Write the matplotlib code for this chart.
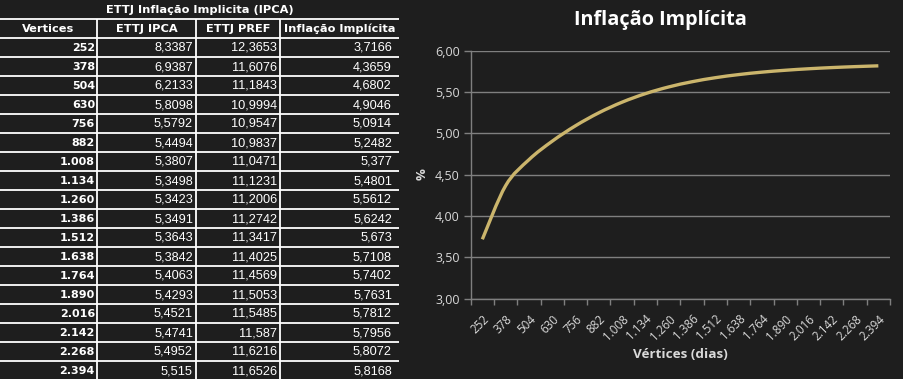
import matplotlib
matplotlib.use("Agg")
import matplotlib.pyplot as plt
from matplotlib.path import Path
from matplotlib.patches import PathPatch
import numpy as np

# ---------------- data ----------------
vertices = [252, 378, 504, 630, 756, 882, 1008, 1134, 1260, 1386, 1512, 1638,
            1764, 1890, 2016, 2142, 2268, 2394]
ettj_ipca = [8.3387, 6.9387, 6.2133, 5.8098, 5.5792, 5.4494, 5.3807, 5.3498,
             5.3423, 5.3491, 5.3643, 5.3842, 5.4063, 5.4293, 5.4521, 5.4741,
             5.4952, 5.515]
ettj_pref = [12.3653, 11.6076, 11.1843, 10.9994, 10.9547, 10.9837, 11.0471,
             11.1231, 11.2006, 11.2742, 11.3417, 11.4025, 11.4569, 11.5053,
             11.5485, 11.587, 11.6216, 11.6526]
inflacao = [3.7166, 4.3659, 4.6802, 4.9046, 5.0914, 5.2482, 5.377, 5.4801,
            5.5612, 5.6242, 5.673, 5.7108, 5.7402, 5.7631, 5.7812, 5.7956,
            5.8072, 5.8168]
table_title = "ETTJ Inflação Implicita (IPCA)"
table_headers = ["Vertices", "ETTJ IPCA", "ETTJ PREF", "Inflação Implícita"]
chart_title = "Inflação Implícita"
x_label = "Vértices (dias)"
y_label = "%"
y_ticks = [3.0, 3.5, 4.0, 4.5, 5.0, 5.5, 6.0]

BG = "#1e1e1e"
TXT = "#d9d9d9"
GRID = "#7f7f7f"
LINE = "#cbb56c"

W, H = 904, 379
fig = plt.figure(figsize=(W / 100, H / 100), dpi=100, facecolor=BG)

def fmt_vert(v):
    return f"{v:,}".replace(",", ".")

def fmt_num(v):
    return repr(float(v)).replace(".", ",")

# ---------------- table ----------------
tab = fig.add_axes([0, 0, 1, 1])
tab.set_xlim(0, W)
tab.set_ylim(H, 0)
tab.axis("off")
tab.patch.set_alpha(0)

row_h = 19
table_right = 399
col_edges = [0, 97, 196, 280, table_right]
hdr_font = dict(family="DejaVu Sans", weight="bold", size=8.2, color="white")
col1_font = dict(family="DejaVu Sans", weight="bold", size=8.0, color="white")
val_font = dict(family="Liberation Sans", size=9.2, color="white")

tab.text(200, row_h / 2 + 0.5, table_title, ha="center", va="center", **hdr_font)
for i, h in enumerate(table_headers):
    cx = (col_edges[i] + col_edges[i + 1]) / 2
    tab.text(cx, row_h * 1.5 + 0.5, h, ha="center", va="center", **hdr_font)

n = len(vertices)
for r in range(n + 1):
    y = row_h * (r + 1)
    tab.plot([0, table_right], [y, y], color="white", lw=1.3, solid_capstyle="butt")
for xe in col_edges[1:-1]:
    tab.plot([xe, xe], [row_h, H], color="white", lw=1.3, solid_capstyle="butt")

right_pos = [95, 193, 277, 392]
for r in range(n):
    yc = row_h * (r + 2) + row_h / 2 + 0.5
    tab.text(right_pos[0], yc, fmt_vert(vertices[r]), ha="right", va="center", **col1_font)
    tab.text(right_pos[1], yc, fmt_num(ettj_ipca[r]), ha="right", va="center", **val_font)
    tab.text(right_pos[2], yc, fmt_num(ettj_pref[r]), ha="right", va="center", **val_font)
    tab.text(right_pos[3], yc, fmt_num(inflacao[r]), ha="right", va="center", **val_font)

# ---------------- chart ----------------
x0, x1 = 470.7, 890
y_top, y_bot = 50.7, 298.5
ax = fig.add_axes([x0 / W, (H - y_bot) / H, (x1 - x0) / W, (y_bot - y_top) / H])
ax.set_facecolor(BG)

xs = np.arange(n, dtype=float)
ys = np.array(inflacao, dtype=float)

# smoothed line (Bezier through the data points, Excel-like smoothing)
verts = [(xs[0], ys[0])]
codes = [Path.MOVETO]
for i in range(n - 1):
    p0 = np.array([xs[max(i - 1, 0)], ys[max(i - 1, 0)]])
    p1 = np.array([xs[i], ys[i]])
    p2 = np.array([xs[i + 1], ys[i + 1]])
    p3 = np.array([xs[min(i + 2, n - 1)], ys[min(i + 2, n - 1)]])
    c1 = p1 + (p2 - p0) / 6.0
    c2 = p2 - (p3 - p1) / 6.0
    verts += [tuple(c1), tuple(c2), tuple(p2)]
    codes += [Path.CURVE4] * 3
ax.add_patch(PathPatch(Path(verts, codes), facecolor="none", edgecolor=LINE,
                       lw=2.4, capstyle="butt", zorder=3))

ax.set_xlim(-0.5, n - 0.5)
ax.set_ylim(3.0, 6.0)
ax.set_yticks(y_ticks)
ax.set_yticklabels([f"{v:.2f}".replace(".", ",") for v in y_ticks])
ax.yaxis.grid(True, color=GRID, lw=1)
ax.set_axisbelow(True)

ax.set_xticks(np.arange(-0.5, n, 1.0))
ax.set_xticklabels([])
ax.set_xticks(xs, minor=True)
ax.set_xticklabels([fmt_vert(v) for v in vertices], minor=True, rotation=45,
                   ha="right", rotation_mode="anchor", fontsize=8.4,
                   family="Open Sans", color=TXT)
ax.tick_params(axis="x", which="major", length=4, color=GRID, width=1)
ax.tick_params(axis="x", which="minor", length=0, pad=10)
ax.tick_params(axis="y", length=5, color=GRID, width=1, labelsize=9.0,
               labelcolor=TXT, pad=3)
for lab in ax.get_yticklabels():
    lab.set_family("Open Sans")

for s in ["top", "right"]:
    ax.spines[s].set_visible(False)
for s in ["left", "bottom"]:
    ax.spines[s].set_color(GRID)
    ax.spines[s].set_linewidth(1)

fig.text(660 / W, 1 - 20 / H, chart_title, ha="center", va="center",
         fontsize=14.3, weight="bold", family="Open Sans", color="white")
fig.text(680 / W, 1 - 354 / H, x_label, ha="center", va="center",
         fontsize=9.7, weight="bold", family="Open Sans", color=TXT)
fig.text(422 / W, 1 - 174 / H, y_label, ha="center", va="center",
         fontsize=9.5, weight="bold", family="Open Sans", color=TXT, rotation=90)

fig.savefig("out.png", dpi=100, facecolor=BG)
